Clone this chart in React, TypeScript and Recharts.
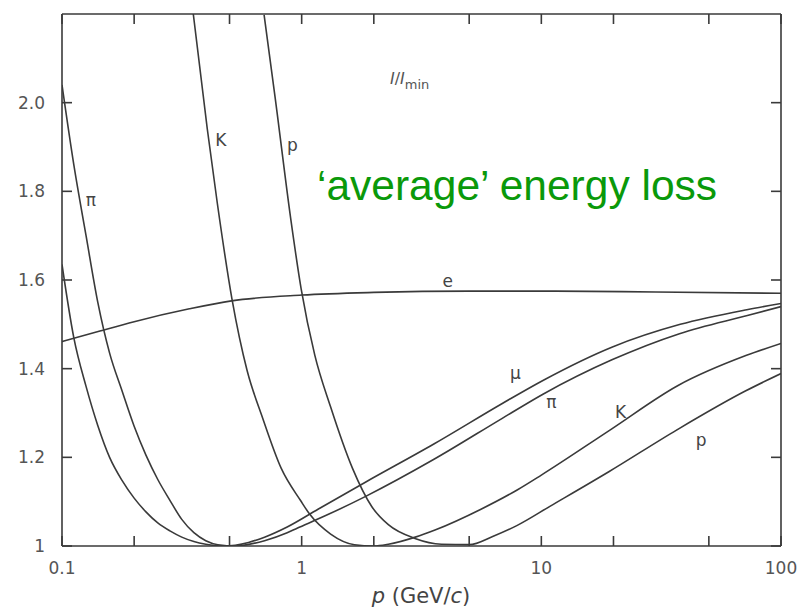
import React from 'react';
import { LineChart, Line, XAxis, YAxis, ReferenceDot } from 'recharts';

// momentum p (GeV/c) and I/I_min per particle
const P_E = [0.1, 0.144, 0.2, 0.34, 0.51, 1, 2, 5, 11.5, 30, 100];
const I_E = [1.461, 1.485, 1.506, 1.535, 1.553, 1.566, 1.572, 1.575, 1.575, 1.573, 1.57];

const P_MU = [0.1, 0.112, 0.126, 0.141, 0.158, 0.178, 0.2, 0.224, 0.251, 0.282, 0.316, 0.355, 0.398, 0.47, 0.6, 0.7, 0.87, 1.17, 1.86, 3.56, 6.9, 10.2, 19.8, 38, 72, 100];
const I_MU = [1.635, 1.47, 1.36, 1.272, 1.2, 1.148, 1.108, 1.077, 1.052, 1.034, 1.02, 1.01, 1.004, 1.0, 1.008, 1.02, 1.043, 1.083, 1.145, 1.23, 1.322, 1.374, 1.449, 1.5, 1.533, 1.547];

const P_PI = [0.1, 0.112, 0.126, 0.141, 0.158, 0.178, 0.2, 0.224, 0.251, 0.282, 0.316, 0.355, 0.398, 0.447, 0.53, 0.7, 0.87, 0.957, 1.3, 1.85, 3.55, 6.87, 10.2, 19.7, 37.7, 72.4, 100];
const I_PI = [2.04, 1.86, 1.7, 1.55, 1.435, 1.35, 1.27, 1.205, 1.15, 1.103, 1.06, 1.03, 1.012, 1.003, 1.0, 1.012, 1.03, 1.04, 1.072, 1.112, 1.195, 1.288, 1.343, 1.42, 1.479, 1.52, 1.54];

const P_K = [0.353, 0.404, 0.445, 0.512, 0.592, 0.686, 0.822, 0.991, 1.079, 1.321, 1.66, 2.0, 2.3, 2.98, 3.6, 5.6, 7.96, 10, 19.4, 37.2, 71.8, 100];
const I_K = [2.2, 1.94, 1.772, 1.557, 1.396, 1.29, 1.175, 1.102, 1.072, 1.027, 1.003, 1.0, 1.004, 1.02, 1.036, 1.083, 1.127, 1.16, 1.262, 1.362, 1.43, 1.457];

const P_P = [0.697, 0.776, 0.904, 0.995, 1.135, 1.318, 1.63, 1.96, 2.3, 2.97, 3.83, 5.0, 6.3, 7.9, 10.9, 19.2, 36.8, 71.3, 100];
const I_P = [2.198, 2.009, 1.731, 1.58, 1.43, 1.315, 1.175, 1.089, 1.048, 1.017, 1.004, 1.003, 1.022, 1.046, 1.09, 1.168, 1.262, 1.35, 1.389];

const X_TICKS = [0.1, 0.2, 0.5, 1, 2, 5, 10, 20, 50, 100];
const X_LABELED = [0.1, 1, 10, 100];
const Y_TICKS = [1, 1.2, 1.4, 1.6, 1.8, 2.0];

const LABEL_TEXT = ['π', 'K', 'p', 'e', 'μ', 'π', 'K', 'p'];
const LABEL_P = [0.132, 0.46, 0.914, 4.07, 7.8, 11.0, 21.4, 46.4];
const LABEL_I = [1.781, 1.915, 1.904, 1.598, 1.39, 1.326, 1.302, 1.24];

const zip = (p: number[], v: number[]) => p.map((x, k) => ({ x, y: v[k] }));

const SERIES = [
  { name: 'e', data: zip(P_E, I_E) },
  { name: 'mu', data: zip(P_MU, I_MU) },
  { name: 'pi', data: zip(P_PI, I_PI) },
  { name: 'K', data: zip(P_K, I_K) },
  { name: 'p', data: zip(P_P, I_P) },
];

const INK = '#3a3a3a';
const TICK_FILL = '#555';

export default function App() {
  return (
    <div style={{ position: 'absolute', left: 0, top: 0, width: 805, height: 614, background: '#fff', fontFamily: 'DejaVu Sans, sans-serif' }}>
      <LineChart width={805} height={614} margin={{ top: 0, right: 0, bottom: 0, left: 0 }}>
        <XAxis
          xAxisId="bottom"
          dataKey="x"
          type="number"
          scale="log"
          domain={[0.1, 100]}
          allowDataOverflow
          orientation="bottom"
          height={68}
          ticks={X_TICKS}
          interval={0}
          tickFormatter={(v: number) => (X_LABELED.includes(v) ? String(v) : '')}
          tickSize={-10}
          tickMargin={26}
          stroke={INK}
          strokeWidth={1.6}
          tick={{ fill: TICK_FILL, fontSize: 17 }}
        />
        <XAxis
          xAxisId="top"
          dataKey="x"
          type="number"
          scale="log"
          domain={[0.1, 100]}
          allowDataOverflow
          orientation="top"
          height={14}
          ticks={X_TICKS}
          interval={0}
          tickFormatter={() => ''}
          tickSize={-10}
          stroke={INK}
          strokeWidth={1.6}
        />
        <YAxis
          yAxisId="left"
          type="number"
          domain={[1, 2.2]}
          allowDataOverflow
          orientation="left"
          width={62}
          ticks={Y_TICKS}
          interval={0}
          tickFormatter={(v: number) => (v === 1 ? '1' : v.toFixed(1))}
          tickSize={-10}
          tickMargin={27}
          stroke={INK}
          strokeWidth={1.6}
          tick={{ fill: TICK_FILL, fontSize: 17 }}
        />
        <YAxis
          yAxisId="right"
          type="number"
          domain={[1, 2.2]}
          allowDataOverflow
          orientation="right"
          width={24}
          ticks={Y_TICKS}
          interval={0}
          tickFormatter={() => ''}
          tickSize={-10}
          stroke={INK}
          strokeWidth={1.6}
        />
        {SERIES.map((s) => (
          <Line
            key={s.name}
            xAxisId="bottom"
            yAxisId="left"
            data={s.data}
            dataKey="y"
            type="monotone"
            stroke={INK}
            strokeWidth={1.6}
            dot={false}
            isAnimationActive={false}
          />
        ))}
        {LABEL_TEXT.map((t, k) => (
          <ReferenceDot
            key={k}
            xAxisId="bottom"
            yAxisId="left"
            x={LABEL_P[k]}
            y={LABEL_I[k]}
            r={0}
            fill="none"
            stroke="none"
            label={{ value: t, position: 'center', fill: '#444', fontSize: 17 }}
          />
        ))}
      </LineChart>
      <svg width={805} height={614} style={{ position: 'absolute', left: 0, top: 0, pointerEvents: 'none' }}>
        <text x={390} y={84} fontSize={16} fill="#555">
          <tspan fontStyle="italic">I</tspan>/<tspan fontStyle="italic">I</tspan>
          <tspan fontSize={13} dy={5}>min</tspan>
        </text>
        <text x={317} y={200} fontSize={42.5} fill="#0a990a" fontFamily="Liberation Sans, Arial, sans-serif">
          ‘average’ energy loss
        </text>
        <text x={421} y={603} fontSize={21} fill="#444" textAnchor="middle">
          <tspan fontStyle="italic">p</tspan> (GeV/<tspan fontStyle="italic">c</tspan>)
        </text>
      </svg>
    </div>
  );
}
